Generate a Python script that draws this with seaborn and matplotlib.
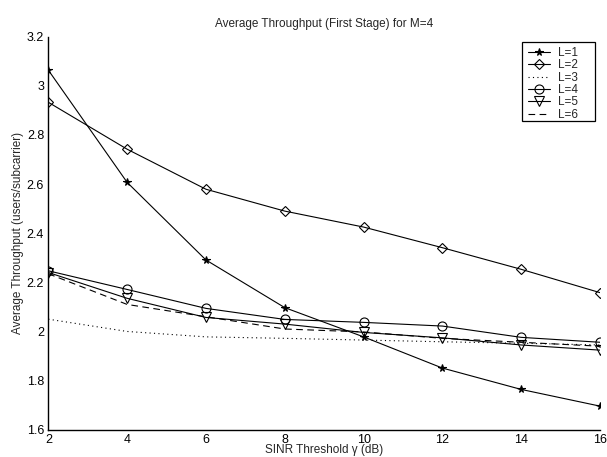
import numpy as np
import pandas as pd
import matplotlib
matplotlib.use("Agg")
import matplotlib.pyplot as plt
from matplotlib.patches import Rectangle
from matplotlib.ticker import FormatStrFormatter
import seaborn as sns

# SINR threshold (dB)
sinr_db = [2, 4, 6, 8, 10, 12, 14, 16]

# Average throughput (users/subcarrier) for each L
thr_L1 = [3.064, 2.607, 2.291, 2.097, 1.978, 1.851, 1.764, 1.696]
thr_L2 = [2.933, 2.742, 2.579, 2.490, 2.425, 2.341, 2.253, 2.158]
thr_L3 = [2.050, 2.000, 1.978, 1.972, 1.965, 1.958, 1.952, 1.945]
thr_L4 = [2.247, 2.171, 2.094, 2.049, 2.037, 2.022, 1.976, 1.956]
thr_L5 = [2.240, 2.135, 2.057, 2.030, 1.996, 1.974, 1.945, 1.924]
thr_L6 = [2.235, 2.110, 2.060, 2.010, 1.998, 1.972, 1.956, 1.940]

series_names = ["L=1", "L=2", "L=3", "L=4", "L=5", "L=6"]
series_vals = [thr_L1, thr_L2, thr_L3, thr_L4, thr_L5, thr_L6]

x_ticks = [2, 4, 6, 8, 10, 12, 14, 16]
y_ticks = [1.6, 1.8, 2.0, 2.2, 2.4, 2.6, 2.8, 3.0, 3.2]

df = pd.DataFrame({
    "sinr": np.tile(sinr_db, len(series_names)),
    "thr": np.concatenate(series_vals),
    "L": np.repeat(series_names, len(sinr_db)),
})

sns.set_style("white")
plt.rcParams["font.family"] = ["Liberation Sans", "DejaVu Sans"]

fig = plt.figure(figsize=(6.07, 4.57), dpi=100)
ax = fig.add_axes([0.0796, 0.0597, 0.9089, 0.86])

styles = {
    "L=1": dict(marker="*", ls="-", ms=5.5, mfc="black"),
    "L=2": dict(marker="D", ls="-", ms=5, mfc="none"),
    "L=3": dict(marker=None, ls=(0, (1, 3)), ms=0, mfc="none"),
    "L=4": dict(marker="o", ls="-", ms=6.5, mfc="none"),
    "L=5": dict(marker="v", ls="-", ms=6.5, mfc="none"),
    "L=6": dict(marker=None, ls=(0, (6, 4)), ms=0, mfc="none"),
}

for name in series_names:
    st = styles[name]
    sub = df[df["L"] == name]
    sns.lineplot(data=sub, x="sinr", y="thr", ax=ax, color="black",
                 lw=0.8, linestyle=st["ls"], marker=st["marker"],
                 markersize=st["ms"], markerfacecolor=st["mfc"],
                 markeredgecolor="black", markeredgewidth=0.8,
                 label=name, estimator=None)

ax.set_xlim(2, 16)
ax.set_ylim(1.6, 3.2)
ax.set_xticks(x_ticks)
ax.set_yticks(y_ticks)
ax.yaxis.set_major_formatter(FormatStrFormatter("%g"))
ax.tick_params(direction="in", length=4, width=0.8, labelsize=9, colors="black",
               pad=3)
for s in ["top", "right"]:
    ax.spines[s].set_visible(False)
for s in ["left", "bottom"]:
    ax.spines[s].set_color("black")
    ax.spines[s].set_linewidth(1.0)

ax.set_xlabel("SINR Threshold γ (dB)", fontsize=8.5, labelpad=-1)
ax.set_ylabel("Average Throughput (users/subcarrier)", fontsize=8.5, labelpad=2)
ax.set_title("Average Throughput (First Stage) for M=4", fontsize=8.5, pad=7)

# Legend entries without their own frame; a plain box is drawn around them
leg = ax.legend(loc="upper left", bbox_to_anchor=(528 / 607, 1 - 47.0 / 457),
                bbox_transform=fig.transFigure, fontsize=8.5, frameon=False,
                handlelength=1.9, handletextpad=0.6, borderpad=0,
                labelspacing=0.03, borderaxespad=0)
box = Rectangle((521.7 / 607, 1 - 121 / 457), (595 - 521.7) / 607,
                (121 - 42.3) / 457, transform=fig.transFigure, fill=True,
                facecolor="white", edgecolor="black", lw=0.9, zorder=4)
fig.add_artist(box)
leg.set_zorder(5)
fig.legends.append(ax.legend_)
ax.legend_ = None

fig.savefig("out.png", dpi=100, facecolor="white")
